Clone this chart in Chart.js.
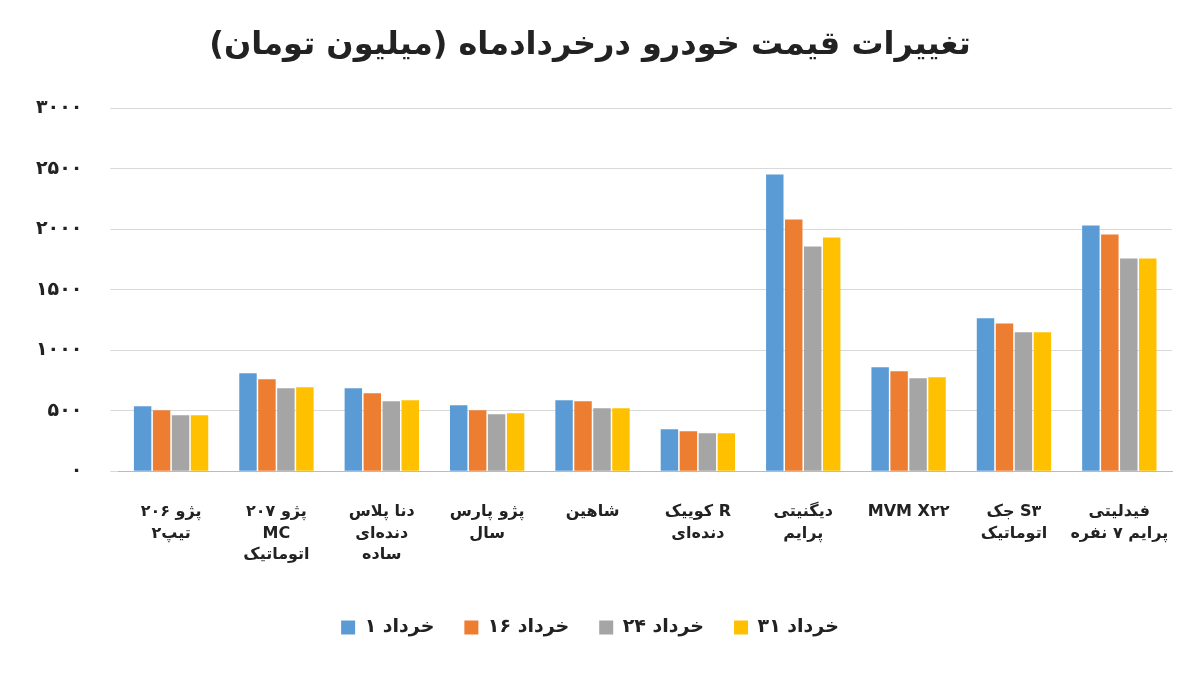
<!DOCTYPE html>
<html>
<head>
<meta charset="utf-8">
<script src="https://cdn.jsdelivr.net/npm/chart.js@4/dist/chart.umd.min.js"></script>
<style>
  html, body { margin: 0; padding: 0; background: #fff; }
  #wrap { width: 1200px; height: 673px; }
</style>
</head>
<body>
<div id="wrap"><canvas id="c" width="1200" height="673"></canvas></div>
<script>
const categories = [
  ['پژو ۲۰۶', 'تیپ۲'],
  ['پژو ۲۰۷', 'MC', 'اتوماتیک'],
  ['دنا پلاس', 'دنده‌ای', 'ساده'],
  ['پژو پارس', 'سال'],
  ['شاهین'],
  ['کوییک R', 'دنده‌ای'],
  ['دیگنیتی', 'پرایم'],
  ['MVM X۲۲'],
  ['جک S۳', 'اتوماتیک'],
  ['فیدلیتی', 'پرایم ۷ نفره']
]
const seriesNames = ['۱ خرداد', '۱۶ خرداد', '۲۴ خرداد', '۳۱ خرداد']
const khordad1 = [537, 810, 686, 545, 586, 347, 2453, 859, 1264, 2032]
const khordad16 = [504, 760, 644, 504, 578, 330, 2081, 826, 1222, 1958]
const khordad24 = [462, 686, 578, 471, 520, 314, 1858, 768, 1148, 1759]
const khordad31 = [462, 694, 586, 479, 520, 314, 1933, 776, 1148, 1759]
const colors = ['#5b9bd5', '#ed7d31', '#a5a5a5', '#ffc000']

const toFa = n => String(n).replace(/\d/g, d => '۰۱۲۳۴۵۶۷۸۹'[d])
const font = 'DejaVu Sans'

new Chart(document.getElementById('c'), {
  type: 'bar',
  data: {
    labels: categories,
    datasets: [khordad1, khordad16, khordad24, khordad31].map((d, i) => ({
      label: seriesNames[i],
      data: d,
      backgroundColor: colors[i],
      categoryPercentage: 0.72,
      barPercentage: 0.92
    }))
  },
  options: {
    responsive: false,
    animation: false,
    layout: { padding: { left: 8, right: 28, top: 8, bottom: 26 } },
    plugins: {
      title: {
        display: true,
        text: 'تغییرات قیمت خودرو درخردادماه (میلیون تومان)',
        font: { family: font, size: 32, weight: 'bold' },
        color: '#222',
        padding: { top: 18, bottom: 44 }
      },
      legend: {
        position: 'bottom',
        labels: {
          font: { family: font, size: 19, weight: 'bold' },
          color: '#222',
          boxWidth: 14, boxHeight: 14,
          padding: 30
        }
      },
      tooltip: { enabled: false }
    },
    scales: {
      x: {
        grid: { display: false },
        border: { color: '#bbb' },
        ticks: { autoSkip: false, font: { family: font, size: 16, weight: 'bold', lineHeight: 1.35 }, color: '#222', maxRotation: 0, padding: 22 }
      },
      y: {
        min: 0, max: 3000,
        ticks: { stepSize: 500, callback: v => toFa(v), font: { family: font, size: 19, weight: 'bold' }, color: '#222', padding: 28 },
        grid: { color: '#d9d9d9' },
        border: { display: false }
      }
    }
  }
})
</script>
</body>
</html>
